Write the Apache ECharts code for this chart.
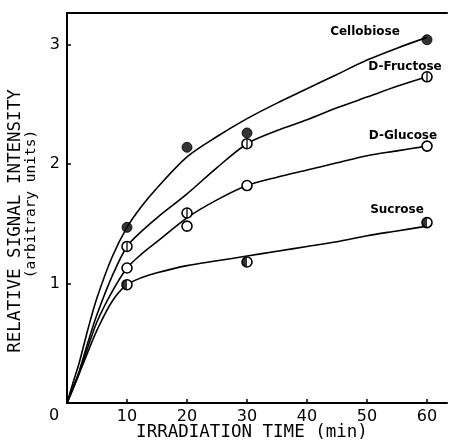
<!DOCTYPE html>
<html>
<head>
<meta charset="utf-8">
<script src="https://cdn.jsdelivr.net/npm/echarts@6/dist/echarts.min.js"></script>
<style>html,body{margin:0;padding:0;background:#fff}#c{width:449px;height:442px}</style>
</head>
<body>
<div id="c"></div>
<script>
// Measured points
var pointX = [10, 20, 30, 60];
var cellobioseY = [1.47, 2.14, 2.26, 3.04];
var fructoseY = [1.31, 1.59, 2.17, 2.73];
var glucoseY = [1.13, 1.48, 1.82, 2.15];
var sucroseX = [10, 30, 60];
var sucroseY = [0.99, 1.18, 1.51];

// Fitted curves
var curveX          = [0, 1,    2,    3.5,  5,    7.5,  10,   12.5, 15,   20,   25,   30,   35,   40,   45,   50,   55,   60];
var cellobioseCurve = [0, 0.17, 0.33, 0.62, 0.88, 1.22, 1.47, 1.65, 1.80, 2.06, 2.23, 2.38, 2.51, 2.63, 2.75, 2.87, 2.97, 3.06];
var fructoseCurve   = [0, 0.13, 0.26, 0.51, 0.74, 1.06, 1.31, 1.44, 1.55, 1.75, 1.97, 2.17, 2.28, 2.37, 2.47, 2.56, 2.65, 2.73];
var glucoseCurve    = [0, 0.12, 0.25, 0.47, 0.68, 0.93, 1.13, 1.25, 1.35, 1.55, 1.70, 1.82, 1.89, 1.95, 2.01, 2.07, 2.11, 2.15];
var sucroseCurve    = [0, 0.12, 0.24, 0.43, 0.61, 0.85, 0.99, 1.05, 1.09, 1.15, 1.19, 1.23, 1.27, 1.31, 1.35, 1.40, 1.44, 1.48];

var xTickLabels = ['10', '20', '30', '40', '50', '60'];
var yTickLabels = ['1', '2', '3'];
var seriesNames = ['Cellobiose', 'D-Fructose', 'D-Glucose', 'Sucrose'];

function zip(xs, ys) { return xs.map(function (x, i) { return [x, ys[i]]; }); }

var FONT = 'DejaVu Sans';
var chart = echarts.init(document.getElementById('c'), null, {renderer: 'canvas'});

function lineSeries(data) {
  return {
    type: 'line', data: data, symbol: 'none', smooth: 0.3,
    lineStyle: {color: '#000', width: 1.6}, silent: true, z: 2
  };
}
function markSeries(data, opts) {
  return Object.assign({
    type: 'scatter', data: data, symbol: 'circle', symbolSize: 10,
    itemStyle: {color: '#fff', borderColor: '#000', borderWidth: 1.6, opacity: 1},
    silent: true, z: 3
  }, opts || {});
}
function label(text, x, y, font, rot) {
  return {type: 'text', x: x, y: y, rotation: rot || 0,
    style: {text: text, font: font, fill: '#000', align: 'center', verticalAlign: 'middle'}};
}

var option = {
  animation: false,
  backgroundColor: '#fff',
  grid: {left: 67, right: 2, top: 13, bottom: 39, containLabel: false},
  xAxis: [{
    type: 'value', min: 0, max: 63.33, interval: 10,
    axisLine: {show: true, lineStyle: {color: '#000', width: 2}},
    axisTick: {show: true, inside: true, length: 4, lineStyle: {color: '#000', width: 1.5}},
    splitLine: {show: false},
    axisLabel: {
      color: '#000', fontFamily: FONT, fontSize: 16, margin: 6,
      showMinLabel: false, showMaxLabel: false,
      formatter: function (v) { var i = xTickLabels.indexOf(String(v)); return i >= 0 ? xTickLabels[i] : ''; }
    }
  }, {
    type: 'value', position: 'top', min: 0, max: 63.33,
    axisLine: {show: true, lineStyle: {color: '#000', width: 2}},
    axisTick: {show: false}, axisLabel: {show: false}, splitLine: {show: false}
  }],
  yAxis: {
    type: 'value', min: 0, max: 3.264, interval: 1,
    axisLine: {show: true, lineStyle: {color: '#000', width: 2}},
    axisTick: {show: true, inside: true, length: 4, lineStyle: {color: '#000', width: 1.5}},
    splitLine: {show: false},
    axisLabel: {
      color: '#000', fontFamily: FONT, fontSize: 16, margin: 7,
      showMinLabel: false, showMaxLabel: false,
      formatter: function (v) { var i = yTickLabels.indexOf(String(v)); return i >= 0 ? yTickLabels[i] : ''; }
    }
  },
  series: [
    lineSeries(zip(curveX, cellobioseCurve)),
    lineSeries(zip(curveX, fructoseCurve)),
    lineSeries(zip(curveX, glucoseCurve)),
    lineSeries(zip(curveX, sucroseCurve)),
    markSeries(zip(pointX, cellobioseY), {itemStyle: {color: '#000', borderColor: '#000', borderWidth: 1}}),
    markSeries(zip(pointX, fructoseY)),
    markSeries(zip(pointX, fructoseY), {symbol: 'rect', symbolSize: [1.6, 10], itemStyle: {color: '#000'}, z: 4}),
    markSeries(zip(pointX, glucoseY)),
    markSeries(zip(sucroseX, sucroseY)),
    markSeries(zip(sucroseX, sucroseY), {symbol: 'path://M5,0 A5,5 0 0,0 5,10 Z', symbolSize: [5, 10], symbolOffset: [-2.5, 0], itemStyle: {color: '#000'}, z: 4})
  ],
  graphic: [
    label(seriesNames[0], 365, 32, 'bold 12px "DejaVu Sans"'),
    label(seriesNames[1], 405, 67, 'bold 12px "DejaVu Sans"'),
    label(seriesNames[2], 403, 136, 'bold 12px "DejaVu Sans"'),
    label(seriesNames[3], 397, 210, 'bold 12px "DejaVu Sans"'),
    label('0', 54, 416, '16px "DejaVu Sans"'),
    label('IRRADIATION TIME (min)', 252, 432, '17.5px "DejaVu Sans Mono"'),
    label('RELATIVE SIGNAL INTENSITY', 15, 221, '17.5px "DejaVu Sans Mono"', Math.PI / 2),
    label('(arbitrary units)', 31, 204, '14.5px "DejaVu Sans Mono"', Math.PI / 2)
  ]
};
chart.setOption(option);
</script>
</body>
</html>
